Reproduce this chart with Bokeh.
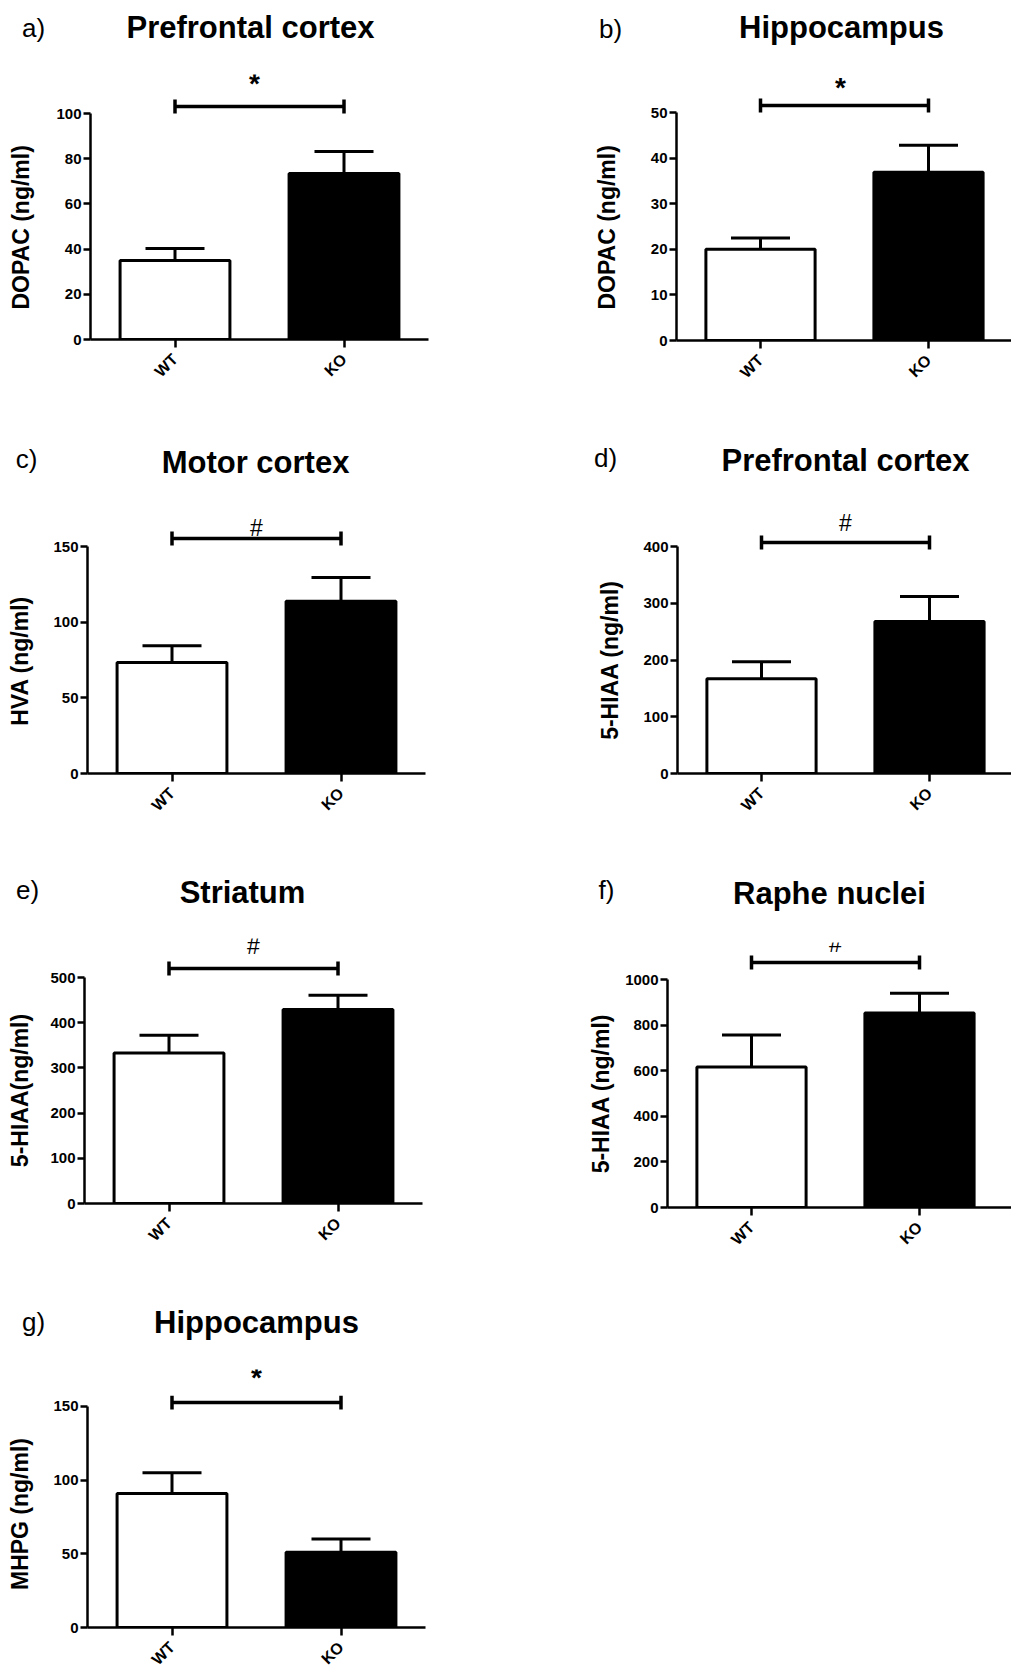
from math import pi
from bokeh.plotting import figure
from bokeh.layouts import column, row
from bokeh.models import Range1d, FixedTicker, Label, ColumnDataSource, Whisker, TeeHead, Title
from bokeh.embed import file_html
from bokeh.resources import INLINE

# ---------------- data ----------------
groups = ["WT", "KO"]
letters = ["a)", "b)", "c)", "d)", "e)", "f)", "g)"]
titles = ["Prefrontal cortex", "Hippocampus", "Motor cortex", "Prefrontal cortex",
          "Striatum", "Raphe nuclei", "Hippocampus"]
ylabels = ["DOPAC (ng/ml)", "DOPAC (ng/ml)", "HVA (ng/ml)", "5-HIAA (ng/ml)",
           "5-HIAA(ng/ml)", "5-HIAA (ng/ml)", "MHPG (ng/ml)"]
ymax = [100, 50, 150, 400, 500, 1000, 150]
ystep = [20, 10, 50, 100, 100, 200, 50]
marks = ["*", "*", "#", "#", "#", "#", "*"]

means_a = [35.0, 73.4]
errs_a = [5.3, 9.8]
means_b = [20.0, 36.9]
errs_b = [2.5, 5.9]
means_c = [73.3, 113.9]
errs_c = [11.1, 15.6]
means_d = [167.0, 268.0]
errs_d = [30.0, 44.0]
means_e = [333.0, 429.0]
errs_e = [39.0, 32.0]
means_f = [616.0, 853.0]
errs_f = [141.0, 87.0]
means_g = [91.0, 51.0]
errs_g = [14.0, 9.0]

means = [means_a, means_b, means_c, means_d, means_e, means_f, means_g]
errs = [errs_a, errs_b, errs_c, errs_d, errs_e, errs_f, errs_g]
bar_colors = ["white", "black"]

# ---------------- layout (page pixels) ----------------
FONT = "Liberation Sans"
FH = 265          # plot frame height
HH = 62           # header (title row) height
YLAB_SIZE = 23
row_tops = [0, 420, 850, 1290]
row_hs = [420, 430, 440, 387]
col_lefts = [0, 560]
col_ws = [560, 451]

# advance widths (per 1000 em) of a bold Arial-metric font, to centre the rotated y labels
BOLD_W = {"D": 722, "O": 778, "P": 667, "A": 722, "C": 722, " ": 278, "(": 333, "n": 611,
          "g": 611, "/": 278, "m": 889, "l": 278, ")": 333, "H": 722, "V": 667, "5": 556,
          "-": 333, "I": 278, "M": 833, "G": 778}


def text_len(s, size):
    return sum(BOLD_W.get(ch, 600) for ch in s) * size / 1000.0


layout = [
    dict(col=0, row=0, yx=90, y0=339, ah=226, pitch=169, tit=(250, 27), let=(33, 27), br=233, mk=(-5, 256), als=16),
    dict(col=1, row=0, yx=676, y0=340, ah=228, pitch=168, tit=(841, 27), let=(610, 28), br=235, mk=(-4, 253), als=24),
    dict(col=0, row=1, yx=87, y0=773, ah=227, pitch=169, tit=(255, 462), let=(26, 458), br=235, mk=(0, 246), als=14),
    dict(col=1, row=1, yx=677, y0=773, ah=227, pitch=168, tit=(845, 460), let=(605, 457), br=231, mk=(0, 251), als=14),
    dict(col=0, row=2, yx=84, y0=1203, ah=226, pitch=169, tit=(242, 892), let=(27, 889), br=235, mk=(0, 258), als=11),
    dict(col=1, row=2, yx=667, y0=1207, ah=228, pitch=168, tit=(829, 893), let=(606, 889), br=245, mk=(0, 264), als=5),
    dict(col=0, row=3, yx=87, y0=1634, ah=227, pitch=169, tit=(256, 1322), let=(33, 1321), br=231, mk=(0, 257), als=14),
]


def make_header(i):
    L = layout[i]
    W = col_ws[L["col"]]
    top = row_tops[L["row"]]
    left = col_lefts[L["col"]]
    h = figure(width=W, height=HH, title=None, x_range=Range1d(0, W), y_range=Range1d(0, HH),
               x_axis_location=None, y_axis_location=None, toolbar_location=None,
               output_backend="svg", min_border_left=0, min_border_right=0,
               min_border_top=0, min_border_bottom=0)
    h.frame_align = False
    h.outline_line_color = None
    h.grid.visible = False
    h.add_layout(Label(x=L["tit"][0] - left, y=HH - (L["tit"][1] - top), text=titles[i],
                       text_font=FONT, text_font_style="bold", text_font_size="31px",
                       text_color="black", text_align="center", text_baseline="middle"))
    h.add_layout(Label(x=L["let"][0] - left, y=HH - (L["let"][1] - top), text=letters[i],
                       text_font=FONT, text_font_style="normal", text_font_size="26px",
                       text_color="black", text_align="center", text_baseline="middle"))
    return h


def make_panel(i):
    L = layout[i]
    W = col_ws[L["col"]]
    left = col_lefts[L["col"]]
    top = row_tops[L["row"]] + HH
    plot_h = row_hs[L["row"]] - HH
    bl = L["yx"] - left
    bt = L["y0"] - FH - top
    bb = plot_h - bt - FH
    frame_w = 338 if L["col"] == 0 else W - bl
    br_right = W - bl - frame_w
    xend = 0.5 + frame_w / L["pitch"]
    upp = ymax[i] / L["ah"]  # data units per pixel
    ytop = FH * upp

    p = figure(width=W, height=plot_h, title=None,
               x_range=Range1d(0.5, xend), y_range=Range1d(0, ytop),
               toolbar_location=None, output_backend="svg",
               min_border_left=bl, min_border_right=br_right,
               min_border_top=bt, min_border_bottom=bb)
    p.frame_align = False
    p.outline_line_color = None
    p.grid.visible = False

    xs = [k + 1 for k in range(len(groups))]
    m = means[i]
    e = errs[i]
    src = ColumnDataSource(dict(x=xs, top=m, upper=[a + b for a, b in zip(m, e)],
                                color=bar_colors, grp=groups))

    p.vbar(x="x", top="top", width=0.65, source=src, fill_color="color",
           line_color="black", line_width=3)
    p.add_layout(Whisker(base="x", upper="upper", lower="top", source=src,
                         upper_head=TeeHead(size=59, line_width=3, line_color="black"),
                         lower_head=None, line_width=3, line_color="black"))

    # significance bracket between first and last group
    by = L["br"] * upp
    t = 7 * upp
    p.segment(x0=[xs[0]], y0=[by], x1=[xs[-1]], y1=[by], line_width=3.5, line_color="black")
    p.segment(x0=[xs[0], xs[-1]], y0=[by - t, by - t], x1=[xs[0], xs[-1]], y1=[by + t, by + t],
              line_width=3.5, line_color="black")
    mid = (xs[0] + xs[-1]) / 2 + L["mk"][0] / L["pitch"]
    if marks[i] == "*":
        p.add_layout(Label(x=mid, y=L["mk"][1] * upp, text="*", text_font=FONT,
                           text_font_style="bold", text_font_size="28px", text_color="black",
                           text_align="center", text_baseline="middle"))
    else:
        p.add_layout(Label(x=mid, y=L["mk"][1] * upp, text="#", text_font=FONT,
                           text_font_style="normal", text_font_size="23px", text_color="black",
                           text_align="center", text_baseline="middle"))

    # y axis
    ya = p.yaxis[0]
    ya.bounds = (0, ymax[i])
    ya.ticker = FixedTicker(ticks=list(range(0, ymax[i] + 1, ystep[i])))
    ya.minor_tick_line_color = None
    ya.major_tick_out = 7
    ya.major_tick_in = 0
    ya.axis_line_width = 2.5
    ya.major_tick_line_width = 2.5
    ya.major_label_standoff = 2
    ya.major_label_text_font = FONT
    ya.major_label_text_font_style = "bold"
    ya.major_label_text_font_size = "15px"
    ya.major_label_text_color = "black"
    # a blank, tiny axis label only reserves the gap between tick labels and the y title
    ya.axis_label = " "
    ya.axis_label_text_font_size = "1px"
    ya.axis_label_standoff = L["als"]

    # y label: centred on the bounded axis (not on the taller frame)
    off = L["ah"] / 2 - text_len(ylabels[i], YLAB_SIZE) / 2
    p.add_layout(Title(text=ylabels[i], align="left", offset=off, vertical_align="bottom",
                       standoff=0, text_font=FONT, text_font_style="bold",
                       text_font_size=f"{YLAB_SIZE}px", text_color="black"), "left")

    # x axis
    xa = p.xaxis[0]
    xa.ticker = FixedTicker(ticks=xs)
    xa.major_label_overrides = {x: g for x, g in zip(xs, groups)}
    xa.minor_tick_line_color = None
    xa.major_tick_out = 8
    xa.major_tick_in = 0
    xa.axis_line_width = 2.5
    xa.major_tick_line_width = 2.5
    xa.major_label_orientation = pi / 4
    xa.major_label_standoff = 9
    xa.major_label_text_font = FONT
    xa.major_label_text_font_style = "bold"
    xa.major_label_text_font_size = "16px"
    xa.major_label_text_color = "black"
    return p


cells = [column(make_header(i), make_panel(i)) for i in range(7)]
page = column(row(cells[0], cells[1]), row(cells[2], cells[3]),
              row(cells[4], cells[5]), row(cells[6]))

open("out.html", "w").write(file_html(page, INLINE))
